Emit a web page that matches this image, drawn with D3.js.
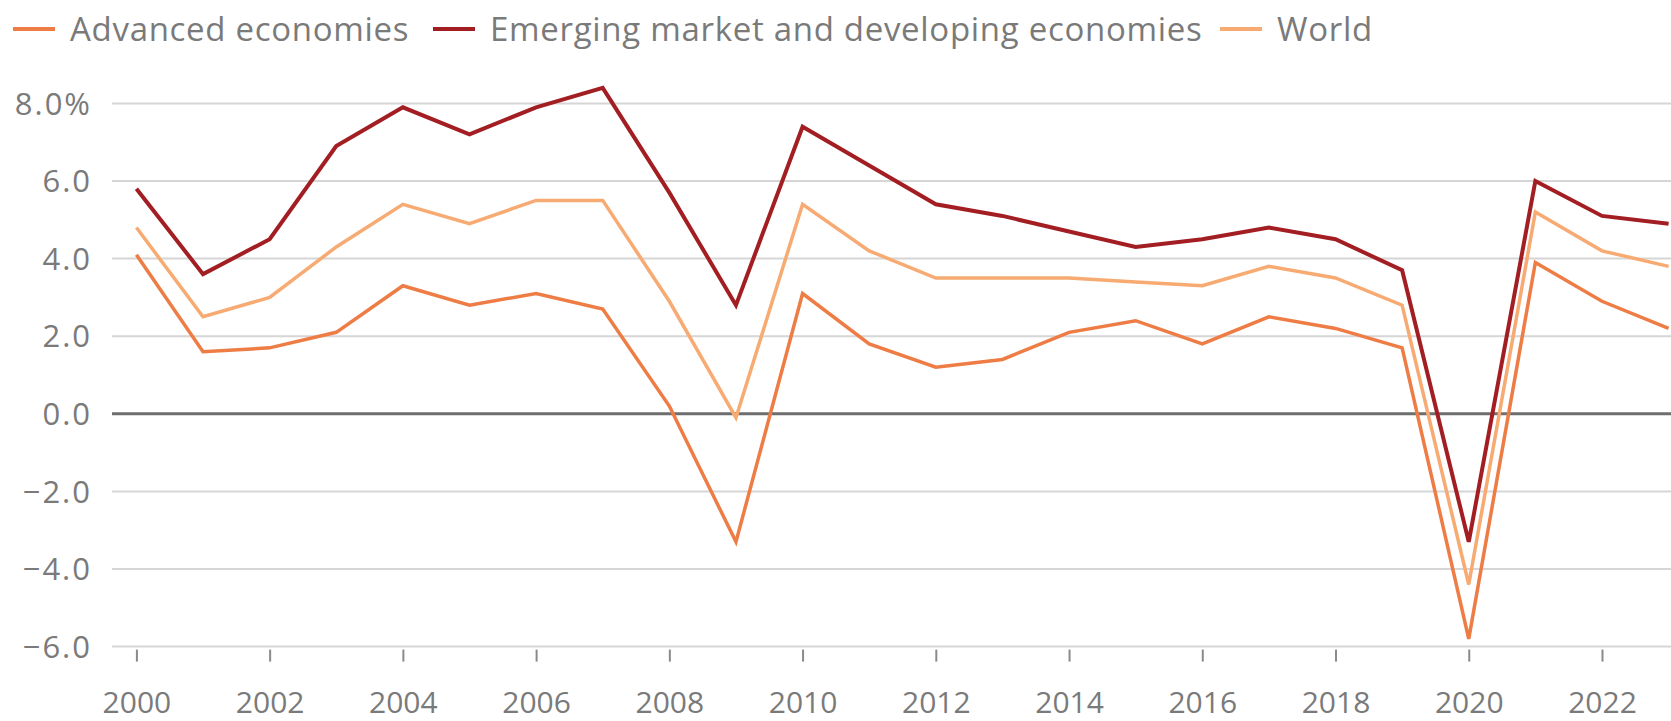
<!DOCTYPE html>
<html><head><meta charset="utf-8">
<script src="https://cdn.jsdelivr.net/npm/d3@7"></script>
<style>
html,body{margin:0;padding:0;background:#fff;}
svg{display:block;font-family:"Open Sans",Lato,sans-serif;}
</style></head>
<body><svg id="c" width="1671" height="721"></svg>
<script>
const years = d3.range(2000, 2024);
const advanced = [4.1,1.6,1.7,2.1,3.3,2.8,3.1,2.7,0.2,-3.3,3.1,1.8,1.2,1.4,2.1,2.4,1.8,2.5,2.2,1.7,-5.8,3.9,2.9,2.2];
const emerging = [5.8,3.6,4.5,6.9,7.9,7.2,7.9,8.4,5.7,2.8,7.4,6.4,5.4,5.1,4.7,4.3,4.5,4.8,4.5,3.7,-3.3,6.0,5.1,4.9];
const world    = [4.8,2.5,3.0,4.3,5.4,4.9,5.5,5.5,2.9,-0.1,5.4,4.2,3.5,3.5,3.5,3.4,3.3,3.8,3.5,2.8,-4.4,5.2,4.2,3.8];
const yTicks = [-6,-4,-2,0,2,4,6,8];
const xTicks = d3.range(2000, 2023, 2);
const seriesNames = ["Advanced economies","Emerging market and developing economies","World"];
const seriesColors = ["#ee7c45","#a21e22","#f7aa72"];

const svg = d3.select("#c");
const x = d3.scaleLinear().domain([2000, 2023]).range([136.4, 1668.6]);
const y = d3.scaleLinear().domain([-6, 8]).range([646.6, 103.4]);
const gridLeft = 112, gridRight = 1671;

// gridlines
svg.append("g").selectAll("line").data(yTicks).join("line")
  .attr("x1", gridLeft).attr("x2", gridRight)
  .attr("y1", d => y(d)).attr("y2", d => y(d))
  .attr("stroke", d => d === 0 ? "#6e6e6e" : "#d6d6d6")
  .attr("stroke-width", d => d === 0 ? 3 : 2);

// y labels
const fmt = d => (d < 0 ? "\u2212" : "") + Math.abs(d).toFixed(1) + (d === 8 ? "%" : "");
svg.append("g").selectAll("text").data(yTicks).join("text")
  .attr("x", 92).attr("y", d => y(d)).attr("dy", "0.36em")
  .attr("text-anchor", "end").attr("fill", "#7a7a7a")
  .attr("font-size", 31).attr("letter-spacing", 2).text(fmt);

// x axis
const xAxis = d3.axisBottom(x).tickValues(xTicks).tickFormat(d3.format("d")).tickSize(12).tickPadding(30);
const gx = svg.append("g").attr("transform", `translate(0,${y(-6) + 3})`).call(xAxis);
gx.select(".domain").remove();
gx.selectAll(".tick line").attr("stroke", "#8a8a8a").attr("stroke-width", 2);
gx.selectAll(".tick text").attr("fill", "#7a7a7a").attr("font-size", 30)
  .attr("font-family", '"Open Sans",Lato,sans-serif');

// lines
const data = [advanced, emerging, world];
const line = d3.line().x((d, i) => x(years[i])).y(d => y(d));
const order = [0, 2, 1];
svg.append("g").selectAll("path").data(order).join("path")
  .attr("d", k => line(data[k]))
  .attr("fill", "none")
  .attr("stroke", k => seriesColors[k])
  .attr("stroke-width", k => k === 1 ? 4 : 3.5)
  .attr("stroke-linejoin", "miter");

// legend
const legendX = [13, 433, 1220];
const lg = svg.append("g");
seriesNames.forEach((n, i) => {
  lg.append("line").attr("x1", legendX[i]).attr("x2", legendX[i] + 42)
    .attr("y1", 29).attr("y2", 29).attr("stroke", seriesColors[i]).attr("stroke-width", 4);
  lg.append("text").attr("x", legendX[i] + 57).attr("y", 29).attr("dy", "0.36em")
    .attr("fill", "#7a7a7a").attr("font-size", 33).attr("letter-spacing", 0.7).text(n);
});
</script></body></html>
